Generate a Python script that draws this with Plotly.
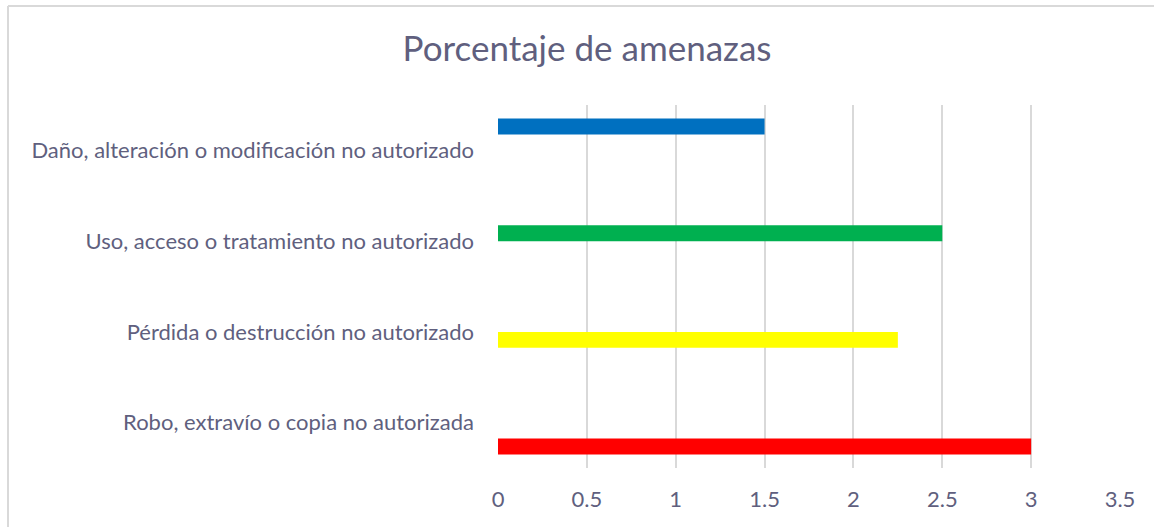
import plotly.graph_objects as go

categories = [
    "Robo, extravío o copia no autorizada",
    "Pérdida o destrucción no autorizado",
    "Uso, acceso o tratamiento no autorizado",
    "Daño, alteración o modificación no autorizado",
]
values = [3, 2.25, 2.5, 1.5]
colors = ["#FF0000", "#FFFF00", "#00B050", "#0070C0"]
x_ticks = [0, 0.5, 1, 1.5, 2, 2.5, 3, 3.5]
title_text = "Porcentaje de amenazas"

W, H = 1154, 527
L, R, T, B = 498, 34, 105, 59
text_color = "#605F7E"
font_family = "Lato, 'Open Sans', sans-serif"

fig = go.Figure()
for i, (cat, val, col) in enumerate(zip(categories, values, colors)):
    xs = [val if j == i else None for j in range(len(categories))]
    fig.add_trace(go.Bar(
        y=categories, x=xs, orientation="h", name=cat,
        marker=dict(color=col, line=dict(width=0)),
        showlegend=False, hoverinfo="x+y",
    ))

pw = W - L - R
ph = H - T - B
fig.update_layout(
    width=W, height=H,
    margin=dict(l=L, r=R, t=T, b=B),
    paper_bgcolor="white", plot_bgcolor="white",
    barmode="group", bargap=0.30, bargroupgap=0,
    title=dict(text=title_text, x=587 / W, xanchor="center",
               y=1 - 49 / H, yanchor="middle",
               font=dict(family=font_family, size=35, color=text_color)),
    font=dict(family=font_family, color=text_color),
    xaxis=dict(range=[0, 3.5], tickvals=x_ticks, ticktext=[str(t) for t in x_ticks],
               showgrid=True, gridcolor="#D9D9D9", gridwidth=2,
               zeroline=False, showline=False, ticks="",
               tickfont=dict(size=22, color=text_color), ticklabelstandoff=16),
    yaxis=dict(categoryorder="array", categoryarray=categories,
               showgrid=False, zeroline=False, showline=False, ticks="",
               tickfont=dict(size=22, color=text_color), ticklabelstandoff=23),
    shapes=[
        dict(type="line", xref="paper", yref="paper",
             x0=(8 - L) / pw, x1=(8 - L) / pw, y0=(H - B - 530) / ph, y1=(H - B - 6) / ph,
             line=dict(color="#D9D9D9", width=2)),
        dict(type="line", xref="paper", yref="paper",
             x0=(8 - L) / pw, x1=(1160 - L) / pw, y0=(H - B - 6) / ph, y1=(H - B - 6) / ph,
             line=dict(color="#D9D9D9", width=2)),
    ],
)
fig.write_html("out.html", config={"displayModeBar": False},
               post_script="document.body.style.margin='0px';")
